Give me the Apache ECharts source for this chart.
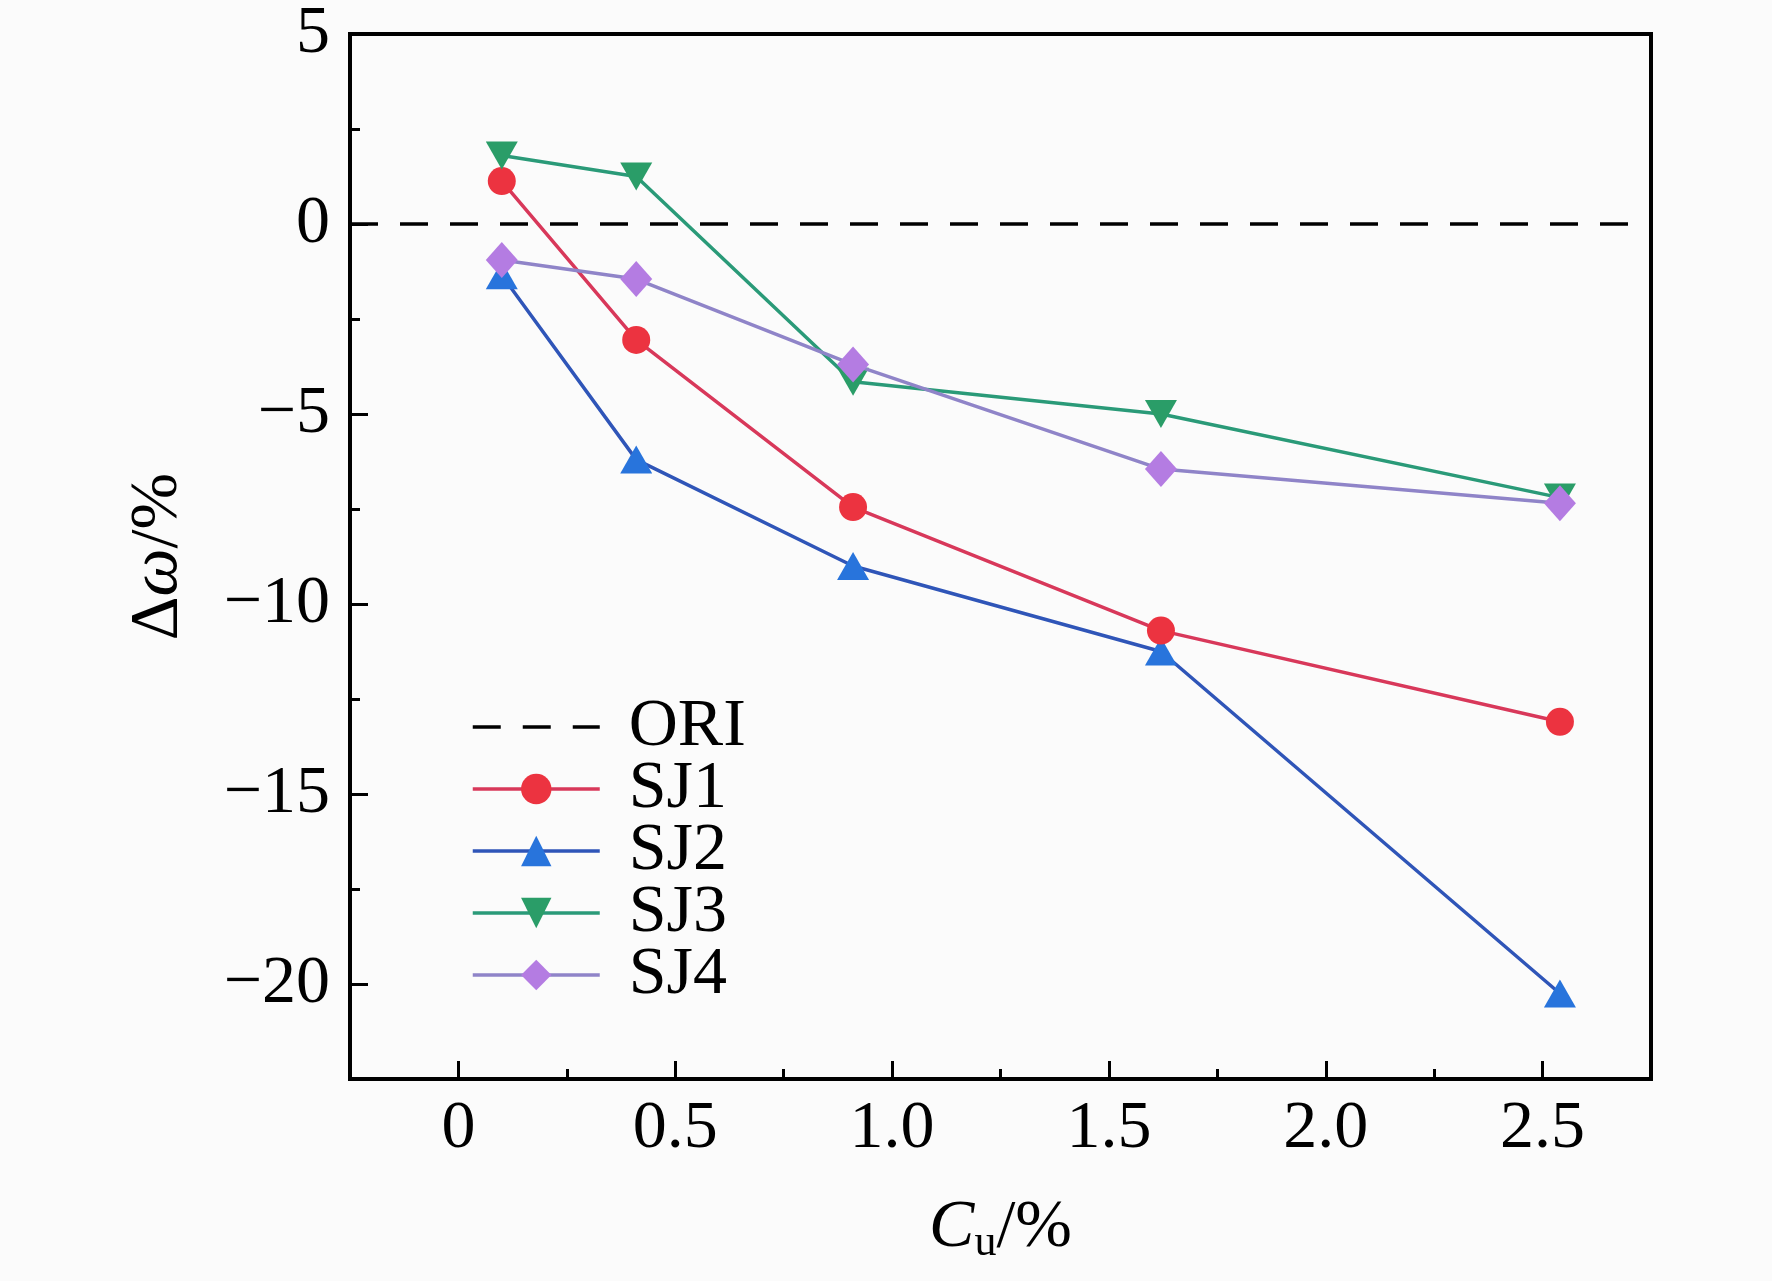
<!DOCTYPE html>
<html>
<head>
<meta charset="utf-8">
<title>Δω vs Cu</title>
<script src="https://cdn.jsdelivr.net/npm/echarts@6/dist/echarts.min.js"></script>
<style>
  html, body { margin: 0; padding: 0; background: #fbfbfb; }
  #chart { width: 1772px; height: 1281px; }
</style>
</head>
<body>
<div id="chart"></div>
<script>
// x positions (Cu, %)
var cuValues = [0.10, 0.41, 0.91, 1.62, 2.54]
// Δω (%) for each specimen group
var sj1 = [1.13, -3.05, -7.45, -10.7, -13.1]
var sj2 = [-1.35, -6.2, -9.0, -11.25, -20.25]
var sj3 = [1.8, 1.25, -4.15, -5.0, -7.2]
var sj4 = [-0.95, -1.45, -3.7, -6.45, -7.35]
// reference line (ORI) at zero across the plot
var oriX = [-0.25, 2.75]
var oriY = [0, 0]
// tick positions
var xMajorTicks = [0, 0.5, 1.0, 1.5, 2.0, 2.5]
var xMinorTicks = [0.25, 0.75, 1.25, 1.75, 2.25]
var yMajorTicks = [-20, -15, -10, -5, 0, 5]
var yMinorTicks = [-22.5, -17.5, -12.5, -7.5, -2.5, 2.5]

var fontFamily = "'Liberation Serif', 'Times New Roman', serif"
var fs = 68

function pairs(xs, ys) {
	return xs.map(function(x, i) {
		return [x, ys[i]]
	})
}

function fmtMinus(v) {
	return String(v).replace("-", "\u2212")
}

var chart = echarts.init(document.getElementById("chart"))

var axisLineStyle = { color: "#000", width: 4 }

var option = {
	backgroundColor: "#fbfbfb",
	animation: false,
	grid: {
		left: 350,
		right: 121,
		top: 32,
		bottom: 202,
		show: true,
		borderColor: "#000",
		borderWidth: 4,
		backgroundColor: "transparent"
	},
	legend: {
		orient: "vertical",
		left: 466,
		top: 688,
		itemWidth: 127,
		itemHeight: 38,
		itemGap: -6,
		lineStyle: { width: 3.5 },
		textStyle: {
			fontFamily: fontFamily,
			fontSize: fs,
			color: "#000",
			padding: [0, 0, 0, 24]
		},
		data: ["ORI", "SJ1", "SJ2", "SJ3", "SJ4"]
	},
	xAxis: [
		{
			type: "value",
			min: -0.25,
			max: 2.75,
			name: "{i|C}{s|u}{n|/%}",
			nameLocation: "middle",
			nameGap: 112,
			nameTextStyle: {
				rich: {
					i: { fontFamily: fontFamily, fontSize: fs, fontStyle: "italic", color: "#000" },
					s: { fontFamily: fontFamily, fontSize: 44, color: "#000", verticalAlign: "bottom", padding: [30, 0, 0, 0] },
					n: { fontFamily: fontFamily, fontSize: fs, color: "#000" }
				}
			},
			axisLine: { onZero: false, lineStyle: axisLineStyle },
			axisTick: { inside: true, length: 18, customValues: xMajorTicks, lineStyle: { color: "#000", width: 3 } },
			splitLine: { show: false },
			axisLabel: {
				fontFamily: fontFamily,
				fontSize: fs,
				color: "#000",
				margin: 16,
				customValues: xMajorTicks,
				formatter: function(v) {
					return v === 0 ? "0" : v.toFixed(1)
				}
			}
		},
		{
			type: "value",
			min: -0.25,
			max: 2.75,
			position: "bottom",
			axisLine: { show: false, onZero: false },
			axisTick: { inside: true, length: 10, customValues: xMinorTicks, lineStyle: { color: "#000", width: 3 } },
			axisLabel: { show: false },
			splitLine: { show: false }
		}
	],
	yAxis: [
		{
			type: "value",
			min: -22.5,
			max: 5,
			name: "{d|\u0394}{i|\u03c9}{n|/%}",
			nameLocation: "middle",
			nameGap: 158,
			nameTextStyle: {
				rich: {
					d: { fontFamily: fontFamily, fontSize: fs, color: "#000" },
					i: { fontFamily: fontFamily, fontSize: fs, fontStyle: "italic", color: "#000" },
					n: { fontFamily: fontFamily, fontSize: fs, color: "#000" }
				}
			},
			axisLine: { onZero: false, lineStyle: axisLineStyle },
			axisTick: { inside: true, length: 18, customValues: yMajorTicks, lineStyle: { color: "#000", width: 3 } },
			splitLine: { show: false },
			axisLabel: {
				fontFamily: fontFamily,
				fontSize: fs,
				color: "#000",
				margin: 20,
				customValues: yMajorTicks,
				formatter: function(v) {
					return fmtMinus(v)
				}
			}
		},
		{
			type: "value",
			min: -22.5,
			max: 5,
			position: "left",
			axisLine: { show: false, onZero: false },
			axisTick: { inside: true, length: 10, customValues: yMinorTicks, lineStyle: { color: "#000", width: 3 } },
			axisLabel: { show: false },
			splitLine: { show: false }
		}
	],
	series: [
		{
			name: "ORI",
			type: "line",
			data: pairs(oriX, oriY),
			symbol: "none",
			lineStyle: { color: "#000", width: 3.5, type: [28, 22] },
			itemStyle: { color: "rgba(0,0,0,0)", borderColor: "rgba(0,0,0,0)" },
			z: 1
		},
		{
			name: "SJ1",
			type: "line",
			data: pairs(cuValues, sj1),
			symbol: "circle",
			symbolSize: 28,
			lineStyle: { color: "#d8385a", width: 3.5 },
			itemStyle: { color: "#ec3340" },
			z: 3
		},
		{
			name: "SJ2",
			type: "line",
			data: pairs(cuValues, sj2),
			symbol: "triangle",
			symbolSize: [32, 28],
			lineStyle: { color: "#2f55b8", width: 3.5 },
			itemStyle: { color: "#2874dc" },
			z: 2
		},
		{
			name: "SJ3",
			type: "line",
			data: pairs(cuValues, sj3),
			symbol: "triangle",
			symbolRotate: 180,
			symbolSize: [32, 28],
			lineStyle: { color: "#2a9a78", width: 3.5 },
			itemStyle: { color: "#2a9d68" },
			z: 4
		},
		{
			name: "SJ4",
			type: "line",
			data: pairs(cuValues, sj4),
			symbol: "diamond",
			symbolSize: [32, 36],
			lineStyle: { color: "#8f84c8", width: 3.5 },
			itemStyle: { color: "#b47ce2" },
			z: 5
		}
	]
}

chart.setOption(option)
</script>
</body>
</html>
